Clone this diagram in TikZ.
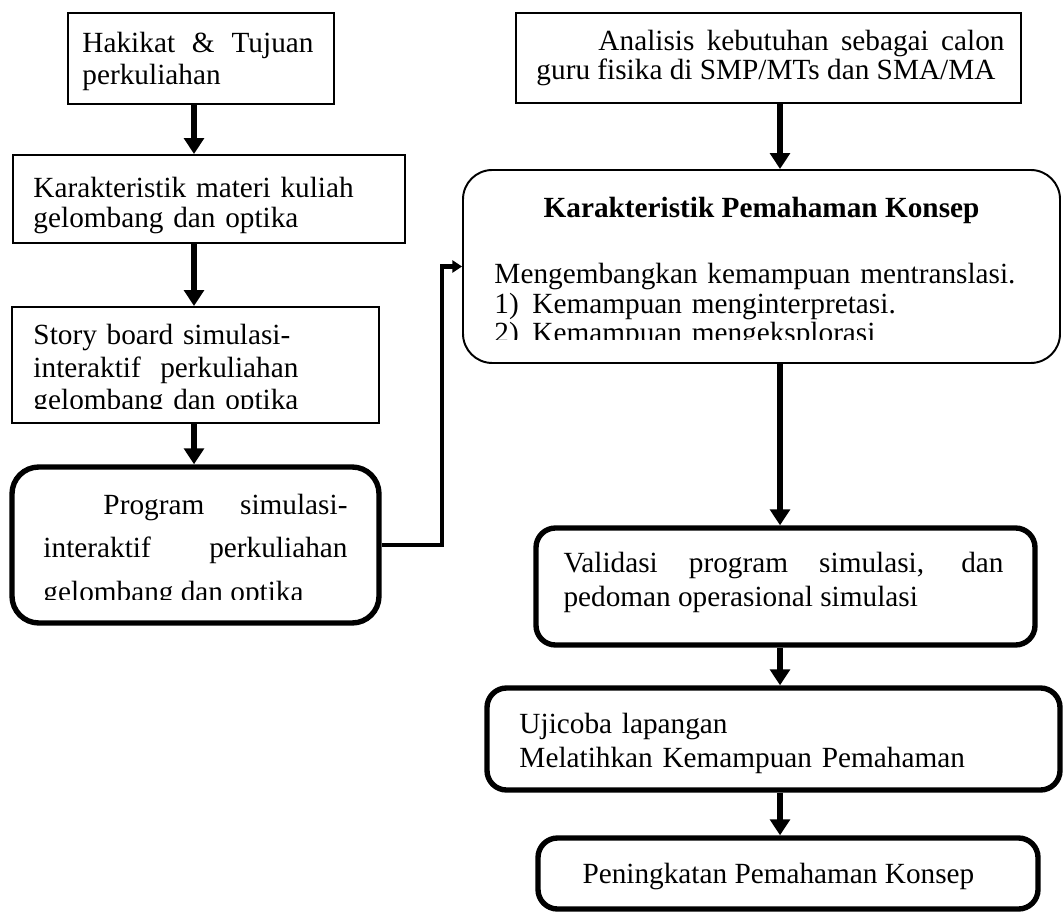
\documentclass[tikz,border=0pt]{standalone}
\usepackage{fontspec}
\setmainfont{Liberation Serif}
\usetikzlibrary{arrows.meta}

\newdimen\px
\px=0.41pt

\tikzset{
    thinbox/.style={draw, line width=0.8pt, inner sep=0pt},
    thickbox/.style={draw, line width=2.2pt, inner sep=0pt, rounded corners=8pt},
    txt/.style={inner sep=0pt, anchor=base west, font=\fontsize{12pt}{#1\px}\selectfont},
    flow/.style={line width=2.2pt, ->},
    link/.style={line width=2pt, -{Triangle[width=5pt,length=4pt]}},
}

\begin{document}
\begin{tikzpicture}[x=\px, y=-\px, >={Triangle[width=8pt,length=6.5pt]}]
    \useasboundingbox (0,0) rectangle (1064,913);
    \coordinate (lx) at (194,0);
    \coordinate (rx) at (780,0);
    \coordinate (jx) at (442,0);

    % left column
    \node[thinbox, minimum width=266\px, minimum height=91\px] (hakikat) at (201,58.5) {};
    \node[txt=32, text width=231\px, align=justify] (hakikattxt) at (82,53)
        {Hakikat \& Tujuan\linebreak perkuliahan};

    \node[thinbox, minimum width=392\px, minimum height=88\px] (materi) at (209,199) {};
    \node[txt=30, text width=360\px, align=left] (materitxt) at (33,198)
        {Karakteristik materi kuliah\\gelombang dan optika};

    \node[thinbox, minimum width=367\px, minimum height=116\px] (story) at (195.5,365) {};
    \begin{scope}
        \clip (12,307) rectangle (379,409);
        \node[txt=32.5, text width=340\px, align=left] (storytxt) at (33,345)
            {Story board simulasi-\\interaktif~ perkuliahan\\gelombang dan optika};
    \end{scope}

    \node[thickbox, rounded corners=11pt, minimum width=367\px, minimum height=156\px] (program) at (195.5,545) {};
    \begin{scope}
        \clip (12,467) rectangle (379,599);
        \node[txt=43, text width=304\px, align=justify] (programtxt) at (43,515)
            {\hspace*{60\px}Program simulasi-\linebreak interaktif perkuliahan\linebreak gelombang dan optika};
    \end{scope}

    % right column
    \node[thinbox, minimum width=505\px, minimum height=90\px] (analisis) at (768.5,58) {};
    \node[txt=29, text width=468\px, align=justify] (analisistxt) at (536,51)
        {\hspace*{62\px}Analisis kebutuhan sebagai calon\linebreak guru fisika di SMP/MTs dan SMA/MA};

    \node[thinbox, rounded corners=12pt, minimum width=597\px, minimum height=193\px] (pemahaman) at (761.5,266.5) {};
    \node[inner sep=0pt, anchor=base, font=\fontsize{12pt}{14pt}\selectfont\bfseries] (pemahamantitle) at (761.5,218)
        {Karakteristik Pemahaman Konsep};
    \begin{scope}
        \clip (463,170) rectangle (1060,340);
        \node[txt=26, text width=540\px, align=left] (pemahamantxt) at (494,284)
            {Mengembangkan kemampuan mentranslasi.\\
             \makebox[38\px][l]{1)}Kemampuan menginterpretasi.\\
             \makebox[38\px][l]{2)}Kemampuan mengeksplorasi};
    \end{scope}

    \node[thickbox, minimum width=499\px, minimum height=117\px] (validasi) at (785.5,586.5) {};
    \node[txt=34, text width=440\px, align=justify] (validasitxt) at (563,573)
        {Validasi program simulasi, dan\linebreak pedoman operasional simulasi};

    \node[thickbox, minimum width=573\px, minimum height=102\px] (ujicoba) at (773.5,739) {};
    \node[txt=34, text width=500\px, align=left] (ujicobatxt) at (519,733)
        {Ujicoba lapangan\\Melatihkan Kemampuan Pemahaman};

    \node[thickbox, minimum width=500\px, minimum height=71\px] (peningkatan) at (788,873.5) {};
    \node[txt=14] (peningkatantxt) at (582,883) {Peningkatan Pemahaman Konsep};

    % arrows
    \draw[flow] (hakikat.south -| lx) -- (materi.north -| lx);
    \draw[flow] (materi.south -| lx) -- (story.north -| lx);
    \draw[flow] (story.south -| lx) -- (program.north -| lx);
    \draw[link] (program.east) -- (program.east -| jx) |- (pemahaman.west);
    \draw[flow] (analisis.south -| rx) -- (pemahaman.north -| rx);
    \draw[flow] (pemahaman.south -| rx) -- (validasi.north -| rx);
    \draw[flow] (validasi.south -| rx) -- (ujicoba.north -| rx);
    \draw[flow] (ujicoba.south -| rx) -- (peningkatan.north -| rx);
\end{tikzpicture}
\end{document}
